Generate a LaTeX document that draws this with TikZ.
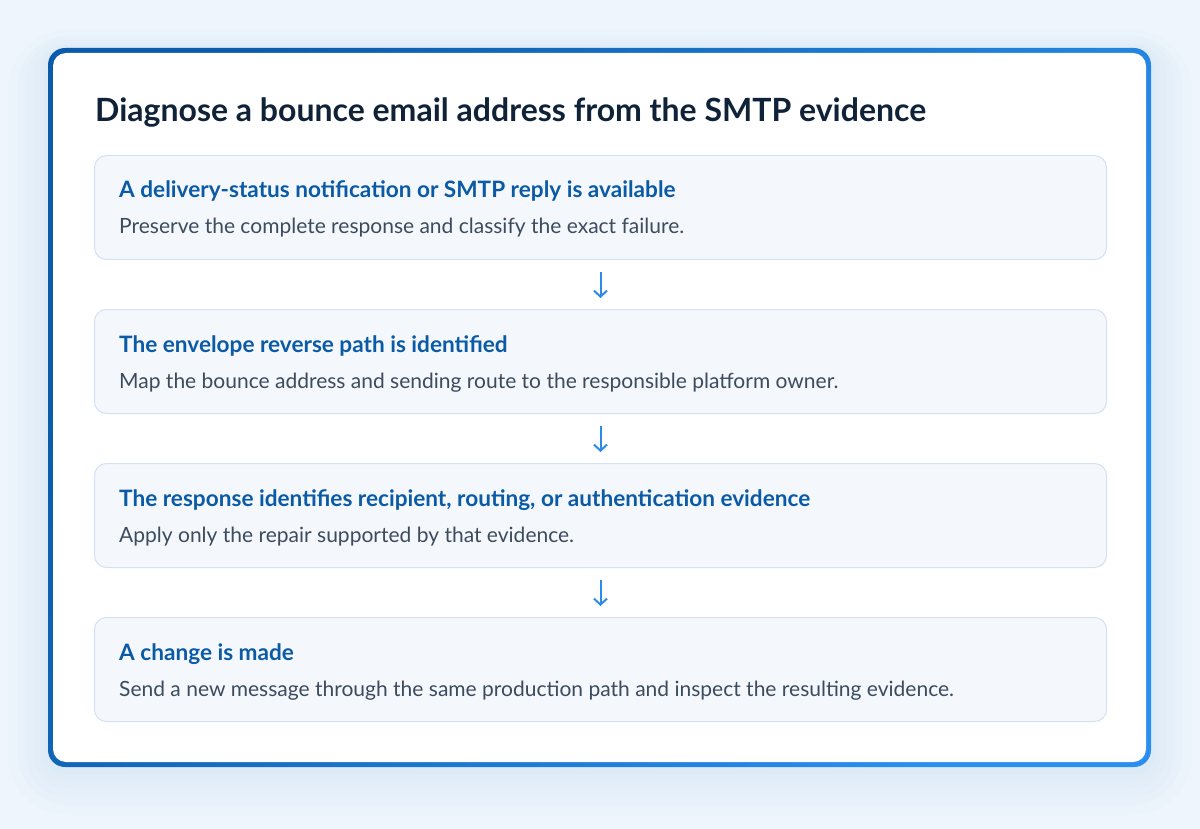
\documentclass[tikz,border=0pt]{standalone}
\usepackage{fontspec}
\setmainfont{Lato}
\usetikzlibrary{positioning, arrows.meta}

\definecolor{pagebg}{HTML}{EFF5FC}
\definecolor{glow}{HTML}{D4E5F7}
\definecolor{edgedark}{HTML}{0B5BAA}
\definecolor{edgelight}{HTML}{2A90EE}
\definecolor{titleink}{HTML}{0F2237}
\definecolor{headink}{HTML}{0B5AA6}
\definecolor{bodyink}{HTML}{3C4B5D}
\definecolor{stepfill}{HTML}{F4F8FD}
\definecolor{stepline}{HTML}{D2E2F4}
\definecolor{flow}{HTML}{2B8BE6}

\begin{document}
\begin{tikzpicture}[x = 1pt, y = -1pt, node distance = 49pt,
    stepbox/.style = {draw = stepline, fill = stepfill, line width = 1pt, rounded corners = 12pt,
                      minimum width = 1012pt, minimum height = 104pt, inner sep = 0pt},
    head/.style = {anchor = base west, inner sep = 0pt, text = headink, font = \fontsize{22.6}{27}\selectfont\bfseries},
    body/.style = {anchor = base west, inner sep = 0pt, text = bodyink, font = \fontsize{21}{25}\selectfont},
    flowarrow/.style = {-{Straight Barb[length = 6pt, width = 13pt]}, draw = flow, line width = 2pt,
                        shorten < = 12pt, shorten > = 11pt},
    haze/.style = {fill = glow, opacity = 0.12}]
    % page and soft glow under the card
    \fill[pagebg] (0,0) rectangle (1200,829);
    \useasboundingbox (0,0) rectangle (1200,829);
    \fill[haze, rounded corners = 60pt] (8,30) rectangle (1192,815);
    \fill[haze, rounded corners = 50pt] (18,36) rectangle (1182,805);
    \fill[haze, rounded corners = 40pt] (26,40) rectangle (1174,796);
    \fill[haze, rounded corners = 32pt] (34,44) rectangle (1166,788);
    \fill[haze, rounded corners = 24pt] (40,46) rectangle (1160,780);
    \fill[haze, rounded corners = 20pt] (44,48) rectangle (1155,774);
    % card
    \shade[rounded corners = 17pt, top color = edgedark, bottom color = edgelight, shading angle = 60]
        (48,48) rectangle (1151,767);
    \fill[white, rounded corners = 13pt] (53,53) rectangle (1146,762);

    \node[anchor = base west, inner sep = 0pt, text = titleink, font = \fontsize{32}{38}\selectfont\bfseries]
        (title) at (95,122) {Diagnose a bounce email address from the SMTP evidence};

    % steps
    \node[stepbox, anchor = north west]	(step1) at (94,155)	{};
    \node[stepbox]	(step2) [below = of step1]	{};
    \node[stepbox]	(step3) [below = of step2]	{};
    \node[stepbox]	(step4) [below = of step3]	{};

    \node[head]	(head1) at ([shift = {(25,43)}] step1.north west)	{A delivery-status notification or SMTP reply is available};
    \node[body]	(body1) at ([shift = {(25,79)}] step1.north west)	{Preserve the complete response and classify the exact failure.};
    \node[head]	(head2) at ([shift = {(25,43)}] step2.north west)	{The envelope reverse path is identified};
    \node[body]	(body2) at ([shift = {(25,79)}] step2.north west)	{Map the bounce address and sending route to the responsible platform owner.};
    \node[head]	(head3) at ([shift = {(25,43)}] step3.north west)	{The response identifies recipient, routing, or authentication evidence};
    \node[body]	(body3) at ([shift = {(25,79)}] step3.north west)	{Apply only the repair supported by that evidence.};
    \node[head]	(head4) at ([shift = {(25,43)}] step4.north west)	{A change is made};
    \node[body]	(body4) at ([shift = {(25,79)}] step4.north west)	{Send a new message through the same production path and inspect the resulting evidence.};

    \draw[flowarrow]	(step1) -- (step2);
    \draw[flowarrow]	(step2) -- (step3);
    \draw[flowarrow]	(step3) -- (step4);
\end{tikzpicture}
\end{document}
